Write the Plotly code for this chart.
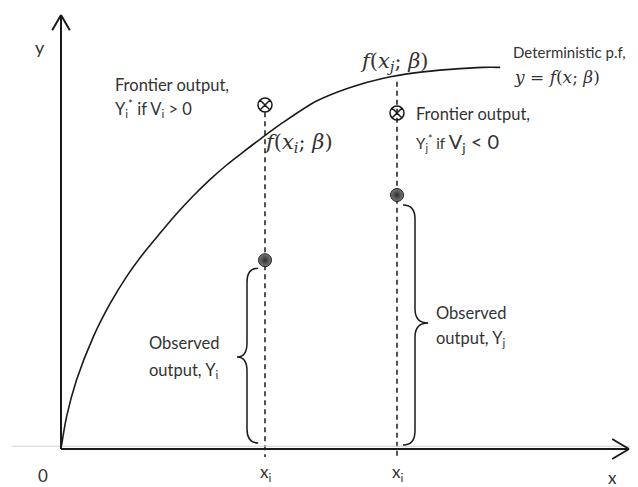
import plotly.graph_objects as go

# frontier curve y = f(x; beta)
curve_x = [0, 0.14, 0.39, 0.81, 1.23, 1.64, 2.06, 2.48, 2.89, 3.31, 3.73, 4.14, 4.56, 4.85,
           5.56, 6.39, 7.23, 8.06, 8.89, 9.73, 10.56, 10.98]
curve_y = [0, 0.81, 1.73, 2.81, 3.64, 4.31, 4.89, 5.40, 5.88, 6.33, 6.74, 7.10, 7.43, 7.65,
           8.17, 8.70, 9.04, 9.27, 9.41, 9.49, 9.54, 9.54]

# the two firms i and j
firm_x = [5.1, 8.4]
observed_y = [4.72, 6.35]
frontier_y = [8.6, 8.4]
dash_top = [8.42, 9.18]
tick_labels = ["x<sub>i</sub>", "x<sub>i</sub>"]

X_END = 14.2
Y_END = 10.85

ink = "#1a1a1a"
txt = "#333333"
sans = "Lato"
serif = "DejaVu Serif"
fs = 16.5

fig = go.Figure()

# light grey baseline under the x axis
fig.add_shape(type="line", x0=-1.23, x1=14.5, y0=0.07, y1=0.07,
              line=dict(color="#cfcfcf", width=1))

# axes with open arrow heads
fig.add_shape(type="line", x0=0, x1=0, y0=0, y1=Y_END, line=dict(color=ink, width=2))
fig.add_shape(type="line", x0=0, x1=X_END, y0=0, y1=0, line=dict(color=ink, width=2))
for sx in (-1, 1):
    fig.add_shape(type="line", x0=0, y0=Y_END, x1=sx * 0.22, y1=Y_END - 0.38,
                  line=dict(color=ink, width=2))
    fig.add_shape(type="line", x0=X_END, y0=0, x1=X_END - 0.42, y1=sx * 0.25,
                  line=dict(color=ink, width=2))

# dashed verticals
for xv, top in zip(firm_x, dash_top):
    fig.add_trace(go.Scatter(x=[xv, xv], y=[top, -0.2], mode="lines",
                             line=dict(color=ink, width=1.5, dash="5px,4px"),
                             hoverinfo="skip", showlegend=False))

# deterministic production frontier
fig.add_trace(go.Scatter(x=curve_x, y=curve_y, mode="lines",
                         line=dict(color=ink, width=1.6, shape="spline", smoothing=0.8),
                         hoverinfo="skip", showlegend=False))

# frontier outputs
fig.add_trace(go.Scatter(x=firm_x, y=frontier_y, mode="markers",
                         marker=dict(symbol="circle-x-open", size=14, color=ink,
                                     line=dict(width=1.5, color=ink)),
                         hoverinfo="skip", showlegend=False))

# observed outputs
fig.add_trace(go.Scatter(x=firm_x, y=observed_y, mode="markers",
                         marker=dict(symbol="circle", size=13, color="#7a7a7a",
                                     gradient=dict(type="radial", color="#2e2e2e"),
                                     line=dict(width=1, color="#222")),
                         hoverinfo="skip", showlegend=False))


def brace(x_end, x_spine, x_tip, y_top, y_bot, y_mid, r=0.35):
    return (f"M {x_end},{y_top} Q {x_spine},{y_top} {x_spine},{y_top - r} "
            f"L {x_spine},{y_mid + r} Q {x_spine},{y_mid} {x_tip},{y_mid} "
            f"Q {x_spine},{y_mid} {x_spine},{y_mid - r} "
            f"L {x_spine},{y_bot + r} Q {x_spine},{y_bot} {x_end},{y_bot}")


# brace for firm i opens to the right, firm j to the left
fig.add_shape(type="path", path=brace(firm_x[0] - 0.17, firm_x[0] - 0.45, firm_x[0] - 0.7,
                                      observed_y[0] - 0.2, 0.15, 2.3),
              line=dict(color=ink, width=1.5))
fig.add_shape(type="path", path=brace(firm_x[1] + 0.15, firm_x[1] + 0.45, firm_x[1] + 0.78,
                                      observed_y[1] - 0.25, 0.1, 3.15),
              line=dict(color=ink, width=1.5))


def label(x, y, text, size=fs, family=sans, anchor="left"):
    fig.add_annotation(x=x, y=y, text=text, showarrow=False, xanchor=anchor,
                       yanchor="middle", font=dict(family=family, size=size, color=txt))


label(-0.52, 10.05, "y", size=18, anchor="center")
label(-0.45, -0.65, "0", size=17, anchor="center")
label(13.78, -0.7, "x", size=17, anchor="center")
for xv, t in zip(firm_x, tick_labels):
    label(xv, -0.6, t, size=17, anchor="center")

label(1.3, 9.1, "Frontier output,")
label(1.3, 8.52, "Y<sub>i</sub><sup>*</sup> if V<sub>i</sub> &gt; 0")
label(8.83, 8.37, "Frontier output,")
label(8.83, 7.67, "Y<sub>j</sub><sup>*</sup> if <span style='font-size:20px'>V<sub>j</sub> &lt; 0</span>",
      size=15)
label(11.26, 9.92, "Deterministic p.f,", size=15)
label(11.28, 9.3, "<i>y</i> = <i>f</i>(<i>x</i>; <i>β</i>)", size=17, family=serif)
label(5.03, 7.65, "<i>f</i>(<i>x<sub>i</sub></i>; <i>β</i>)", size=21, family=serif)
label(7.43, 9.68, "<i>f</i>(<i>x<sub>j</sub></i>; <i>β</i>)", size=21, family=serif)
label(2.15, 2.65, "Observed")
label(2.15, 1.97, "output, Y<sub>i</sub>")
label(9.33, 3.4, "Observed")
label(9.33, 2.77, "output, Y<sub>j</sub>")

# the page body adds an 8px offset, so the figure is drawn 8px smaller
fig.update_layout(
    width=630, height=479,
    margin=dict(l=0, r=0, t=0, b=0),
    paper_bgcolor="white", plot_bgcolor="white",
    xaxis=dict(range=[-1.325, 14.425], visible=False, fixedrange=True),
    yaxis=dict(range=[-0.95, 11.025], visible=False, fixedrange=True),
    showlegend=False,
)

fig.write_html("out.html")
